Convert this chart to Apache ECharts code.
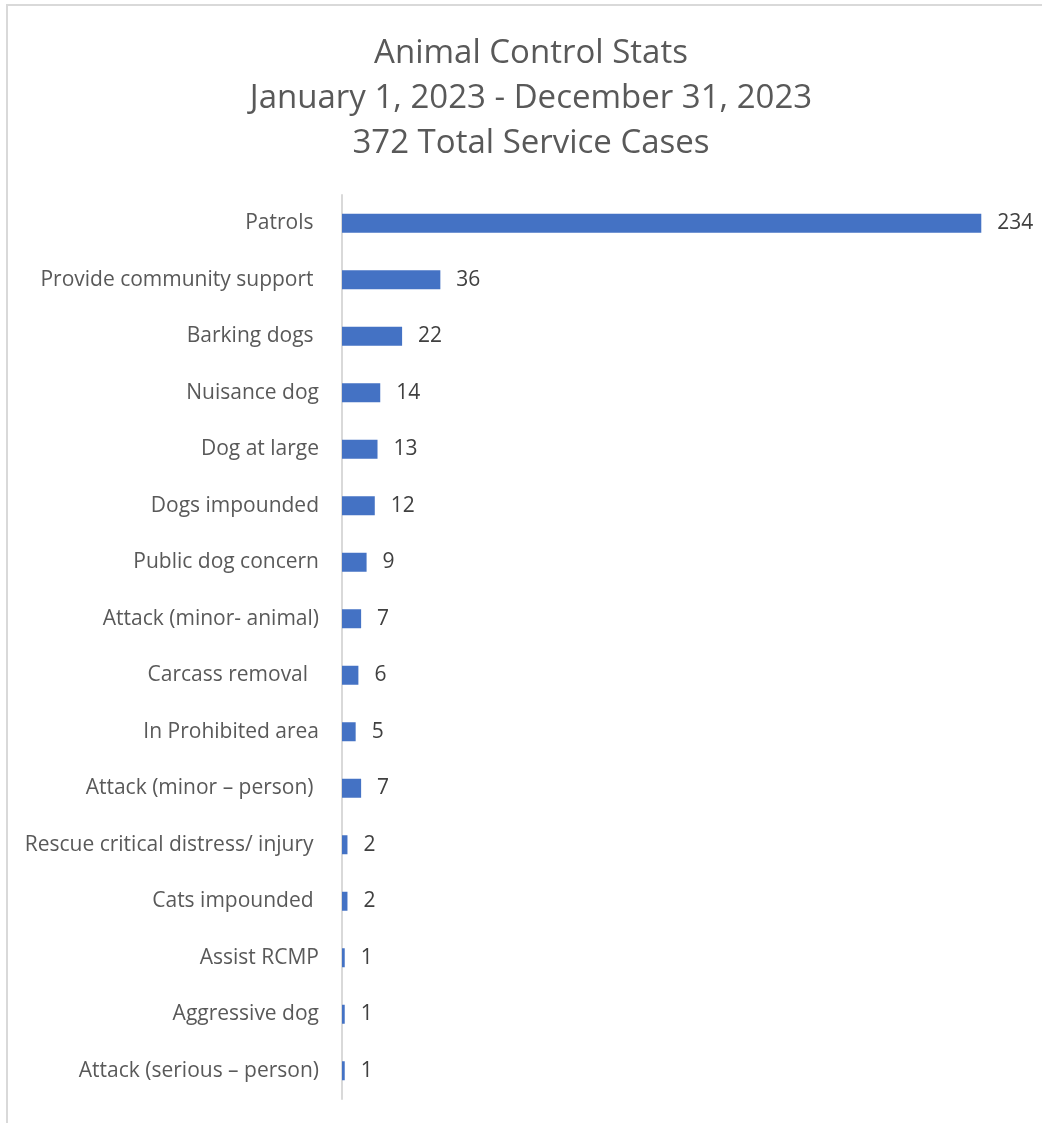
<!DOCTYPE html>
<html>
<head>
<meta charset="utf-8">
<script src="https://cdn.jsdelivr.net/npm/echarts@6/dist/echarts.min.js"></script>
<style>
  html, body { margin: 0; padding: 0; background: #fff; }
  #main { width: 1042px; height: 1123px; }
</style>
</head>
<body>
<div id="main"></div>
<script>
// categories top to bottom, as in the picture
var categories = [
    'Patrols ',
    'Provide community support ',
    'Barking dogs ',
    'Nuisance dog',
    'Dog at large',
    'Dogs impounded',
    'Public dog concern',
    'Attack (minor- animal)',
    'Carcass removal  ',
    'In Prohibited area',
    'Attack (minor \u2013 person) ',
    'Rescue critical distress/ injury ',
    'Cats impounded ',
    'Assist RCMP',
    'Aggressive dog',
    'Attack (serious \u2013 person)'
];
var cases = [234, 36, 22, 14, 13, 12, 9, 7, 6, 5, 7, 2, 2, 1, 1, 1];
var titleLines = [
    'Animal Control Stats',
    'January 1, 2023 - December 31, 2023',
    '372 Total Service Cases'
];

var dom = document.getElementById('main');
var myChart = echarts.init(dom);
var option = {
    animation: false,
    backgroundColor: '#ffffff',
    textStyle: {fontFamily: 'Open Sans'},
    title: {
        text: titleLines.join('\n'),
        left: 526,
        textAlign: 'center',
        top: 26,
        textStyle: {
            fontSize: 33,
            fontWeight: 'normal',
            color: '#595959',
            lineHeight: 45,
            fontFamily: 'Open Sans'
        }
    },
    graphic: [{
        type: 'rect',
        shape: {x: 7, y: 5, width: 1200, height: 1300},
        style: {fill: 'none', stroke: '#d9d9d9', lineWidth: 2},
        silent: true
    }],
    grid: {left: 342, right: 17, top: 195, bottom: 24, containLabel: false},
    xAxis: {
        type: 'value',
        min: 0,
        max: 250,
        show: false
    },
    yAxis: {
        type: 'category',
        inverse: true,
        data: categories,
        axisLine: {show: true, lineStyle: {color: '#d9d9d9', width: 2}},
        axisTick: {show: false},
        axisLabel: {
            margin: 23,
            fontSize: 21,
            color: '#595959',
            fontFamily: 'Open Sans'
        }
    },
    series: [{
        type: 'bar',
        data: cases,
        barWidth: 19,
        itemStyle: {color: '#4472C4'},
        label: {
            show: true,
            position: 'right',
            distance: 16,
            fontSize: 21,
            color: '#404040',
            fontFamily: 'Open Sans'
        }
    }]
};
myChart.setOption(option);
</script>
</body>
</html>
